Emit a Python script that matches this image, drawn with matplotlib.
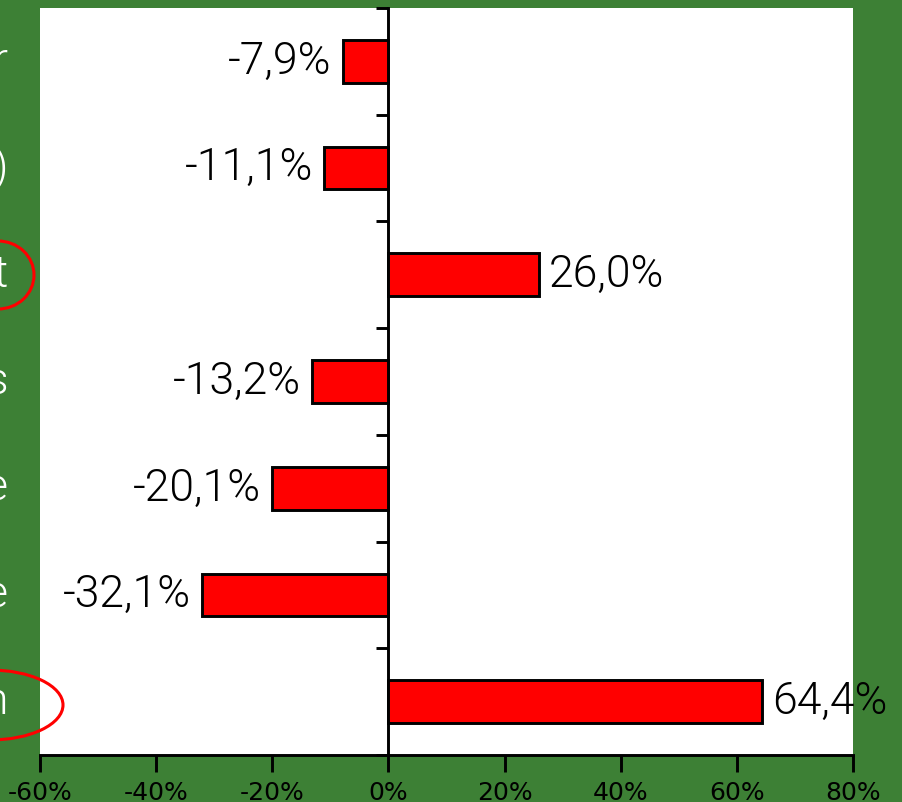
import matplotlib.pyplot as plt
from matplotlib.patches import Ellipse
from matplotlib.ticker import FixedLocator, FuncFormatter

# bar values (%), top to bottom
values = [-7.9, -11.1, 26.0, -13.2, -20.1, -32.1, 64.4]
value_labels = ["-7,9%", "-11,1%", "26,0%", "-13,2%", "-20,1%", "-32,1%", "64,4%"]
# visible ends of the category names on the left
cat_tails = ["r", ")", "t", "s", "e", "e", "n"]
xticks = [-60, -40, -20, 0, 20, 40, 60, 80]

W, H = 903, 802
green = "#3d8035"
label_font = dict(fontsize=32, family="Roboto", fontweight=300)

fig = plt.figure(figsize=(W / 100, H / 100), dpi=100, facecolor=green)
ax = fig.add_axes([40 / W, 47 / H, 813 / W, 747 / H])
ax.set_facecolor("white")

ypos = list(range(len(values)))
ax.barh(ypos, values, height=0.4, color="#ff0000", edgecolor="black", linewidth=2.1, zorder=3)

ax.set_xlim(-60, 80)
ax.set_ylim(len(values) - 0.5, -0.5)

# value labels next to the bar ends
for y, v, lab in zip(ypos, values, value_labels):
    if v < 0:
        ax.annotate(lab, (v, y), xytext=(-8, 0), textcoords="offset points",
                    ha="right", va="center", color="black", **label_font)
    else:
        ax.annotate(lab, (v, y), xytext=(7, 0), textcoords="offset points",
                    ha="left", va="center", color="black", **label_font)

# y axis drawn at x = 0 with ticks between categories
ax.spines["left"].set_position(("data", 0))
ax.spines["left"].set_linewidth(2.1)
ax.spines["bottom"].set_linewidth(2.1)
ax.spines["top"].set_visible(False)
ax.spines["right"].set_visible(False)
ax.yaxis.set_major_locator(FixedLocator([i - 0.5 for i in range(len(values) + 1)]))
ax.yaxis.set_major_formatter(FuncFormatter(lambda v, p: ""))
ax.tick_params(axis="y", direction="out", length=9, width=2.1)

ax.set_xticks(xticks)
ax.set_xticklabels([f"{t}%" for t in xticks], fontsize=18, family="Liberation Sans Narrow")
ax.tick_params(axis="x", direction="out", length=12, width=2.1, pad=7)

# category names, mostly outside the figure edge
for y, t in zip(ypos, cat_tails):
    ax.annotate(t, (-60, y), xytext=(-23, 0), textcoords="offset points",
                ha="right", va="center", color="white", annotation_clip=False,
                **label_font)

# red ellipses around two of the names
for cx, cy, w, h in [(-2, 275, 72, 68), (-10, 705, 146, 70)]:
    e = Ellipse((cx, H - cy), w, h, transform=None, fill=False,
                edgecolor="#ff0000", linewidth=2.2, zorder=10)
    fig.add_artist(e)

fig.savefig("out.png", dpi=100, facecolor=green)
